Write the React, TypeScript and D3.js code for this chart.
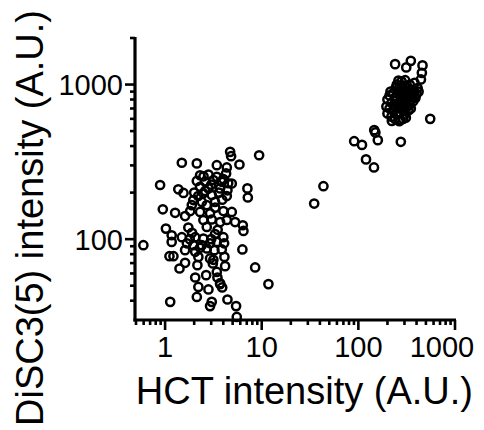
import React from "react";
import * as d3 from "d3";

// Low-HCT population (A.U.)
const lowHct = [
  4.71, 4.82, 9.4, 1.49, 2.13, 3.43, 5.88, 4.35, 2.3, 2.81, 3.43, 4.28, 2.13, 2.6, 3.16, 3.86, 4.9,
  0.888, 1.37, 1.55, 2.3, 2.81, 3.71, 4.42, 7.11, 7.18, 2.49, 3.04, 4.35, 1.96, 2.4, 3.29, 1.89, 2.7,
  0.947, 1.27, 1.61, 1.82, 2.3, 2.92, 4.01, 4.9, 2.49, 3.04, 3.71, 4.35, 5.3, 1.02, 1.74, 6.37, 6.47,
  1.17, 1.49, 2.05, 2.49, 3.29, 4.01, 0.596, 1.17, 1.68, 1.96, 2.4, 2.92, 3.43, 4.08, 1.61, 2.05, 2.7,
  3.24, 3.86, 1.11, 1.22, 2.21, 2.92, 4.11, 6.31, 1.61, 2.16, 3.12, 1.41, 4.18, 3.43, 2.66, 8.55, 2.05,
  3.48, 3.71, 2.21, 2.81, 11.73, 2.13, 3.04, 4.42, 1.13, 2.92, 5.43, 5.52, 3.16, 3.71, 3.9,
  2.6, 3.0, 3.6, 4.0, 2.2, 3.3, 2.7, 3.5, 1.9, 2.3, 3.0, 1.8, 4.5, 3.9, 2.0, 2.5,
];
const lowDisc = [
  367, 344, 349, 312, 309, 301, 304, 291, 259, 262, 253, 266, 238, 235, 241, 235, 229,
  224, 210, 199, 218, 213, 213, 207, 213, 186, 198, 193, 190, 179, 174, 174, 166, 166,
  156, 148, 141, 152, 150, 147, 152, 150, 133, 134, 129, 133, 129, 117, 119, 123, 113,
  106, 103, 103, 101, 108, 103, 91.4, 96, 94, 91.4, 91.4, 94, 96, 94, 84.9, 82.8, 87.1,
  84.9, 85.8, 77.6, 77.6, 76.8, 75.0, 76.8, 85.8, 70.3, 67.9, 69.7, 64.6, 66.9, 61.4, 58.5, 65.6, 56.5,
  56.5, 51.2, 49.1, 47.3, 51.2, 42.3, 39.3, 40.7, 39.3, 36.9, 36.9, 31.4, 73.5, 51.9, 48.7,
  205, 225, 200, 245, 190, 160, 120, 115, 110, 88, 100, 100, 230, 180, 200, 255,
];

// High-HCT population (A.U.)
const highHct = [
  240, 349, 313, 461, 454, 444, 305, 381, 349, 554, 222, 273, 146, 150, 159, 90.5, 109, 275, 120, 145,
  43.5, 34.9,
  250, 280, 300, 320, 340, 360, 380, 400, 260, 230, 210, 200, 220, 240, 270, 290, 310, 330, 350, 370,
  250, 280, 300, 320, 340, 210, 230, 260, 290, 200, 220, 250, 270, 300, 240, 265, 290, 310, 195, 215,
  330, 360, 390, 280, 260, 420, 410, 300, 330,
  255, 275, 295, 315, 235, 265, 285, 305, 245, 325,
];
const highDisc = [
  1355, 1423, 1291, 1330, 1190, 1079, 1067, 1026, 700, 600, 582, 589, 507, 490, 437, 430, 407, 426, 328, 291,
  220, 170,
  1000, 1050, 980, 950, 1000, 920, 900, 870, 900, 880, 850, 800, 760, 820, 850, 880, 860, 830, 800, 780,
  750, 780, 760, 720, 740, 700, 680, 700, 690, 650, 620, 640, 660, 640, 600, 580, 600, 610, 720, 900,
  880, 850, 820, 950, 1060, 900, 950, 700, 680,
  930, 820, 900, 800, 730, 760, 720, 790, 960, 910,
];

const xMajorTicks = [1, 10, 100, 1000];
const xTickLabels = ["1", "10", "100", "1000"];
const xMinorTicks = [0.5, 0.6, 0.7, 0.8, 0.9, 2, 3, 4, 5, 6, 7, 8, 9, 20, 30, 40, 50, 60, 70, 80, 90, 200, 300, 400, 500, 600, 700, 800, 900];
const yMajorTicks = [100, 1000];
const yTickLabels = ["100", "1000"];
const yMinorTicks = [40, 50, 60, 70, 80, 90, 200, 300, 400, 500, 600, 700, 800, 900, 2000];

const xTitle = "HCT intensity (A.U.)";
const yTitle = "DiSC3(5) intensity (A.U.)";

export default function App() {
  const W = 484;
  const H = 430;
  const x = d3.scaleLog().domain([0.5, 1000]).range([136, 455]);
  const y = d3.scaleLog().domain([30, 2000]).range([320, 38]);
  const axisX = 135;
  const axisY = 320;
  const font = "'Liberation Sans', Arial, sans-serif";

  const pts: [number, number][] = [];
  lowHct.forEach((v, i) => pts.push([v, lowDisc[i]]));
  highHct.forEach((v, i) => pts.push([v, highDisc[i]]));

  return (
    <svg width={W} height={H} style={{ position: "absolute", left: 0, top: 0, background: "#fff" }}>
      <rect x={0} y={0} width={W} height={H} fill="#fff" />
      {pts.map(([a, b], i) => (
        <circle key={i} cx={x(a)} cy={y(b)} r={4.1} fill="none" stroke="#000" strokeWidth={2.5} />
      ))}
      {/* axes */}
      <line x1={axisX} x2={axisX} y1={y(2000) - 1} y2={axisY + 1.5} stroke="#000" strokeWidth={3.2} />
      <line x1={axisX - 1.5} x2={x(1000) + 1} y1={axisY} y2={axisY} stroke="#000" strokeWidth={3.2} />
      {yMajorTicks.map((t) => (
        <line key={"ym" + t} x1={axisX - 10} x2={axisX} y1={y(t)} y2={y(t)} stroke="#000" strokeWidth={2.6} />
      ))}
      {yMinorTicks.map((t) => (
        <line key={"yn" + t} x1={axisX - 5} x2={axisX} y1={y(t)} y2={y(t)} stroke="#000" strokeWidth={2.6} />
      ))}
      {xMajorTicks.map((t) => (
        <line key={"xm" + t} x1={x(t)} x2={x(t)} y1={axisY} y2={axisY + 10} stroke="#000" strokeWidth={2.6} />
      ))}
      {xMinorTicks.map((t) => (
        <line key={"xn" + t} x1={x(t)} x2={x(t)} y1={axisY} y2={axisY + 5} stroke="#000" strokeWidth={2.6} />
      ))}
      {xMajorTicks.map((t, i) => (
        <text
          key={"xl" + t}
          x={x(t) + (i === xMajorTicks.length - 1 ? -13 : 0)}
          y={357}
          textAnchor="middle"
          fontFamily={font}
          fontSize={29}
          fill="#000"
        >
          {xTickLabels[i]}
        </text>
      ))}
      {yMajorTicks.map((t, i) => (
        <text
          key={"yl" + t}
          x={123}
          y={y(t)}
          dy="0.36em"
          textAnchor="end"
          fontFamily={font}
          fontSize={29}
          fill="#000"
        >
          {yTickLabels[i]}
        </text>
      ))}
      <text x={473} y={404} textAnchor="end" fontFamily={font} fontSize={38} fill="#000">
        {xTitle}
      </text>
      <text
        transform={`translate(43, 218) rotate(-90)`}
        textAnchor="middle"
        fontFamily={font}
        fontSize={38}
        fill="#000"
      >
        {yTitle}
      </text>
    </svg>
  );
}
